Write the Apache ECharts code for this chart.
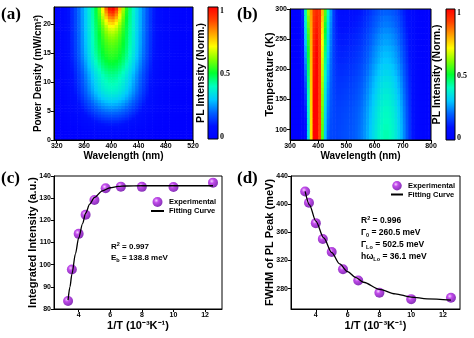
<!DOCTYPE html>
<html><head><meta charset="utf-8">
<script src="https://cdn.jsdelivr.net/npm/echarts@6/dist/echarts.min.js"></script>
<style>html,body{margin:0;padding:0;background:#fff}#c{width:474px;height:338px}</style>
</head><body><div id="c"></div>
<script>
// ---------- (a) power-dependent PL map ----------
const aWlStart = 315, aWlStep = 5;          // wavelength bins (nm)
const aPStep = 0.5;                          // power-density bins (mW/cm2)
// broad emission profile along wavelength (bin centres 317.5 ... 517.5)
const aBroad = [0.049,0.070,0.097,0.131,0.175,0.228,0.290,0.362,0.441,0.527,0.616,0.704,0.788,0.862,0.924,0.969,0.995,0.999,0.982,0.945,0.889,0.819,0.738,0.651,0.562,0.475,0.393,0.318,0.251,0.195,0.150,0.115,0.090,0.075,0.065,0.058,0.052,0.048,0.045,0.042,0.040];
// narrow component that appears at high power
const aNarrow = [0,0,0,0,0,0,0,0,0,0,0,0.017,0.063,0.18,0.40,0.70,0.94,0.99,0.81,0.52,0.26,0.10,0.03,0,0,0,0,0,0,0,0,0,0,0,0,0,0,0,0,0,0];
// amplitudes vs power density (bin centres 0.25 ... 22.75)
const aBaseAmp = [0.035,0.045,0.055,0.07,0.09,0.11,0.13,0.155,0.18,0.205,0.23,0.255,0.28,0.305,0.33,0.35,0.37,0.385,0.395,0.405,0.415,0.425,0.435,0.45,0.465,0.48,0.495,0.51,0.525,0.535,0.545,0.55,0.555,0.56,0.563,0.566,0.569,0.572,0.574,0.576,0.578,0.58,0.582,0.584,0.586,0.588];
const aPeakAmp = [0,0,0,0,0,0,0,0,0,0,0,0,0,0,0,0,0,0,0,0,0,0,0,0,0,0,0,0,0,0,0,0.003,0.008,0.015,0.025,0.04,0.055,0.075,0.10,0.13,0.17,0.21,0.26,0.31,0.36,0.41];
const aXTicks = [320,360,400,440,480,520];
const aYTicks = [0,5,10,15,20];

// ---------- (b) temperature-dependent PL map ----------
const bWlStart = 300, bWlStep = 10;          // bin centres 305 ... 795
const bMainCold = [0,0,0,0,0.01,0.04,0.3,0.68,0.95,1.0,0.8,0.45,0.18,0.06,0.02,0.01,0,0,0,0,0,0,0,0,0,0,0,0,0,0,0,0,0,0,0,0,0,0,0,0,0,0,0,0,0,0,0,0,0,0];
const bMainHot  = [0,0,0,0.02,0.12,0.4,0.6,0.78,0.88,0.9,0.88,0.72,0.5,0.32,0.18,0.08,0.03,0.01,0,0,0,0,0,0,0,0,0,0,0,0,0,0,0,0,0,0,0,0,0,0,0,0,0,0,0,0,0,0,0,0];
const bBroad = [0.03,0.03,0.03,0.04,0.05,0.07,0.1,0.13,0.16,0.2,0.23,0.26,0.29,0.33,0.36,0.38,0.4,0.41,0.42,0.43,0.44,0.45,0.47,0.49,0.52,0.56,0.61,0.67,0.74,0.81,0.87,0.93,0.97,1.0,1.0,0.98,0.94,0.88,0.8,0.7,0.58,0.46,0.35,0.26,0.19,0.14,0.1,0.08,0.07,0.06];
const bTempEdges = [83,90,100,110,120,130,140,150,160,170,180,190,200,210,220,230,240,250,260,270,280,290,300];
const bBroadAmp = [0.41,0.41,0.405,0.4,0.395,0.39,0.38,0.37,0.36,0.35,0.34,0.325,0.315,0.3,0.29,0.28,0.265,0.255,0.24,0.225,0.215,0.2];
const bHotWeight = [0,0.02,0.05,0.08,0.11,0.14,0.18,0.22,0.26,0.3,0.35,0.4,0.45,0.5,0.55,0.6,0.66,0.72,0.78,0.85,0.92,1.0];
const bYTicks = [100,150,200,250,300];

// ---------- (c) integrated intensity ----------
const invT = [3.33,3.57,4.0,4.44,5.0,5.71,6.67,8.0,10.0,12.5];
const cIntensity = [83.6,97.8,113.9,122.5,129.2,134.5,135.2,135.1,135.0,137.0];
const cFitX = [3.33,3.45,3.57,3.8,4.0,4.25,4.44,4.7,5.0,5.5,6.0,6.5,7.0,8.0,10.0,12.5];
const cFitY = [84,90,95.6,105,112.1,118.5,123.2,127.3,130.3,133.3,134.7,135.3,135.5,135.6,135.6,135.6];

// ---------- (d) FWHM ----------
const dFwhm = [418,402,373,350.5,332,307.5,291.5,274,265,267];
const dFitX = [3.33,3.6,4.0,4.5,5.0,5.5,6.0,6.5,7.0,8.0,9.0,10.0,11.0,12.5];
const dFitY = [418,399,376,352,331,315,304,296,289,279,272.5,268,265.5,263.5];
const xTicksT = [4,6,8,10,12];
const dYTicks = [280,320,360,400,440];

// ---------- build ----------
const FS = 'Liberation Sans, Arial, sans-serif';
const FSERIF = 'Liberation Serif, Times New Roman, serif';
// rainbow colour scale, evenly spaced from 0 to 1
const rainbow = ['#0000ff','#0010ff','#0060ff','#00c8ff','#00ffc0','#00ff30','#80ff00','#ffff00','#ffa000','#ff4000','#ff0000'];

const aData = [];
for (let i = 0; i < aBaseAmp.length; i++) {
  for (let j = 0; j < aBroad.length; j++) {
    const v = Math.min(1, aBaseAmp[i] * aBroad[j] + aPeakAmp[i] * aNarrow[j]);
    aData.push([aWlStart + j * aWlStep, aWlStart + (j + 1) * aWlStep, i * aPStep, (i + 1) * aPStep, v]);
  }
}
const bData = [];
for (let i = 0; i < bBroadAmp.length; i++) {
  for (let j = 0; j < bBroad.length; j++) {
    const w = bHotWeight[i];
    const v = Math.min(1, (1 - w) * bMainCold[j] + w * bMainHot[j] + bBroadAmp[i] * bBroad[j]);
    bData.push([bWlStart + j * bWlStep, bWlStart + (j + 1) * bWlStep, bTempEdges[i], bTempEdges[i + 1], v]);
  }
}

function cellRender(params, api) {
  const p0 = api.coord([api.value(0), api.value(3)]);
  const p1 = api.coord([api.value(1), api.value(2)]);
  return {type: 'rect', shape: {x: p0[0], y: p0[1], width: p1[0] - p0[0] + 0.6, height: p1[1] - p0[1] + 0.6},
          style: {fill: api.visual('color')}};
}
function barRender(params, api) {
  const p0 = api.coord([api.value(0), api.value(3)]);
  const p1 = api.coord([api.value(1), api.value(2)]);
  const stops = rainbow.map((c, k) => ({offset: k / (rainbow.length - 1), color: c}));
  return {type: 'rect', shape: {x: p0[0], y: p0[1], width: p1[0] - p0[0], height: p1[1] - p0[1]},
          style: {fill: new echarts.graphic.LinearGradient(0, 1, 0, 0, stops), stroke: '#000', lineWidth: 1}};
}

function axis(extra) {
  const base = {
    type: 'value', z: 10,
    axisLine: {show: true, onZero: false, lineStyle: {color: '#000', width: 1}},
    axisTick: {show: true, length: 3, inside: false, lineStyle: {color: '#000', width: 1}},
    axisLabel: {color: '#000', fontSize: 7, fontWeight: 'bold', fontFamily: FS, margin: 3},
    splitLine: {show: false},
    nameLocation: 'middle', nameMoveOverlap: false,
    nameTextStyle: {color: '#000', fontSize: 10, fontWeight: 'bold', fontFamily: FS}
  };
  const o = Object.assign({}, base, extra);
  ['axisLine','axisTick','axisLabel','nameTextStyle'].forEach(k => { if (extra[k]) o[k] = Object.assign({}, base[k], extra[k]); });
  return o;
}
const hidden = {show: false, type: 'value', min: 0, max: 1};

const sphere = new echarts.graphic.RadialGradient(0.38, 0.35, 0.65, [
  {offset: 0, color: '#f2c8ff'}, {offset: 0.35, color: '#b21ee6'}, {offset: 1, color: '#6a00a6'}]);

const legendData = ['Experimental', {name: 'Fitting Curve', itemStyle: {opacity: 0, color: 'rgba(0,0,0,0)', borderWidth: 0}}];

const option = {
  animation: false,
  backgroundColor: '#fff',
  grid: [
    {left: 54, top: 7, width: 139, height: 133, show: true, borderColor: '#000', borderWidth: 1, z: 10, outerBoundsMode: 'none'},
    {left: 290, top: 9, width: 141, height: 131, show: true, borderColor: '#000', borderWidth: 1, z: 10, outerBoundsMode: 'none'},
    {left: 54, top: 176, width: 168, height: 133, show: true, borderColor: '#000', borderWidth: 1, z: 10, outerBoundsMode: 'none'},
    {left: 291, top: 176, width: 169, height: 133, show: true, borderColor: '#000', borderWidth: 1, z: 10, outerBoundsMode: 'none'},
    {left: 208, top: 7, width: 10, height: 132, outerBoundsMode: 'none'},
    {left: 446, top: 9, width: 9, height: 131, outerBoundsMode: 'none'}
  ],
  xAxis: [
    axis({gridIndex: 0, min: 316, max: 520, name: 'Wavelength (nm)', nameGap: 11,
          axisTick: {customValues: aXTicks}, axisLabel: {customValues: aXTicks}}),
    axis({gridIndex: 1, min: 300, max: 800, interval: 100, name: 'Wavelength (nm)', nameGap: 11}),
    axis({gridIndex: 2, min: 2.44, max: 13.07, name: '1/T (10⁻³K⁻¹)', nameGap: 11,
          nameTextStyle: {fontSize: 11}, axisTick: {customValues: xTicksT}, axisLabel: {customValues: xTicksT}}),
    axis({gridIndex: 3, min: 2.44, max: 13.07, name: '1/T (10⁻³K⁻¹)', nameGap: 11,
          nameTextStyle: {fontSize: 11}, axisTick: {customValues: xTicksT}, axisLabel: {customValues: xTicksT}}),
    Object.assign({gridIndex: 4}, hidden),
    Object.assign({gridIndex: 5}, hidden)
  ],
  yAxis: [
    axis({gridIndex: 0, min: 0, max: 23, name: 'Power Density (mW/cm²)', nameGap: 11,
          axisTick: {customValues: aYTicks}, axisLabel: {customValues: aYTicks}}),
    axis({gridIndex: 1, min: 83, max: 300, name: 'Temperature (K)', nameGap: 15, nameTextStyle: {fontSize: 11},
          axisTick: {customValues: bYTicks}, axisLabel: {customValues: bYTicks}}),
    axis({gridIndex: 2, min: 80, max: 140, interval: 10, name: 'Integrated Intensity (a.u.)', nameGap: 16,
          nameTextStyle: {fontSize: 11}}),
    axis({gridIndex: 3, min: 251, max: 440, name: 'FWHM of PL Peak (meV)', nameGap: 16, nameTextStyle: {fontSize: 11},
          axisTick: {customValues: dYTicks}, axisLabel: {customValues: dYTicks}}),
    {gridIndex: 4, type: 'value', position: 'right', min: -0.015, max: 1.035,
     axisLine: {show: false}, axisTick: {show: false}, splitLine: {show: false},
     axisLabel: {customValues: [0, 0.5, 1], color: '#000', fontSize: 8, fontWeight: 'bold', fontFamily: FSERIF, margin: 2}},
    {gridIndex: 4, type: 'value', position: 'left', min: 0, max: 1, axisLine: {show: false}, axisTick: {show: false},
     axisLabel: {show: false}, splitLine: {show: false}, name: 'PL Intensity (Norm.)', nameLocation: 'middle', nameGap: 1,
     nameMoveOverlap: false, nameTextStyle: {color: '#000', fontSize: 10.5, fontWeight: 'bold', fontFamily: FS}},
    {gridIndex: 5, type: 'value', position: 'right', min: -0.015, max: 1.035,
     axisLine: {show: false}, axisTick: {show: false}, splitLine: {show: false},
     axisLabel: {customValues: [0, 0.5, 1], color: '#000', fontSize: 8, fontWeight: 'bold', fontFamily: FSERIF, margin: 2}},
    {gridIndex: 5, type: 'value', position: 'left', min: 0, max: 1, axisLine: {show: false}, axisTick: {show: false},
     axisLabel: {show: false}, splitLine: {show: false}, name: 'PL Intensity (Norm.)', nameLocation: 'middle', nameGap: 3,
     nameMoveOverlap: false, nameTextStyle: {color: '#000', fontSize: 10.5, fontWeight: 'bold', fontFamily: FS}}
  ],
  visualMap: {type: 'continuous', show: false, min: 0, max: 1, dimension: 4, seriesIndex: [0, 1], inRange: {color: rainbow}},
  legend: [
    {orient: 'vertical', left: 150, top: 197, padding: 0, itemGap: 0, itemWidth: 13, itemHeight: 10,
     data: legendData, selectedMode: false,
     textStyle: {color: '#000', fontSize: 7.5, fontWeight: 'bold', fontFamily: FS}},
    {orient: 'vertical', left: 390, top: 181, padding: 0, itemGap: 0, itemWidth: 12, itemHeight: 9.5,
     data: legendData, selectedMode: false,
     textStyle: {color: '#000', fontSize: 7.5, fontWeight: 'bold', fontFamily: FS}}
  ],
  series: [
    {type: 'custom', xAxisIndex: 0, yAxisIndex: 0, data: aData, renderItem: cellRender, encode: {x: [0, 1], y: [2, 3]}, clip: true, z: 1, silent: true},
    {type: 'custom', xAxisIndex: 1, yAxisIndex: 1, data: bData, renderItem: cellRender, encode: {x: [0, 1], y: [2, 3]}, clip: true, z: 1, silent: true},
    {type: 'custom', xAxisIndex: 4, yAxisIndex: 4, data: [[0, 1, -0.015, 1.035]], renderItem: barRender, encode: {x: [0, 1], y: [2, 3]}, silent: true},
    {type: 'custom', xAxisIndex: 5, yAxisIndex: 6, data: [[0, 1, -0.015, 1.035]], renderItem: barRender, encode: {x: [0, 1], y: [2, 3]}, silent: true},
    {name: 'Experimental', type: 'scatter', xAxisIndex: 2, yAxisIndex: 2, symbol: 'circle', symbolSize: 10,
     data: invT.map((x, i) => [x, cIntensity[i]]), itemStyle: {color: sphere}, z: 3},
    {name: 'Fitting Curve', type: 'line', xAxisIndex: 2, yAxisIndex: 2, symbol: 'none', showSymbol: false,
     smooth: 0.3, smoothMonotone: 'x', data: cFitX.map((x, i) => [x, cFitY[i]]),
     lineStyle: {color: '#000', width: 1.3}, itemStyle: {color: '#000'}, z: 4},
    {name: 'Experimental', type: 'scatter', xAxisIndex: 3, yAxisIndex: 3, symbol: 'circle', symbolSize: 10,
     data: invT.map((x, i) => [x, dFwhm[i]]), itemStyle: {color: sphere}, z: 3},
    {name: 'Fitting Curve', type: 'line', xAxisIndex: 3, yAxisIndex: 3, symbol: 'none', showSymbol: false,
     smooth: 0.3, smoothMonotone: 'x', data: dFitX.map((x, i) => [x, dFitY[i]]),
     lineStyle: {color: '#000', width: 1.3}, itemStyle: {color: '#000'}, z: 4}
  ],
  graphic: (function () {
    const m = (fs) => ({fontSize: fs, fontWeight: 'bold', fontFamily: FS, fill: '#000', lineHeight: 11, verticalAlign: 'middle'});
    const sup = (fs) => ({fontSize: fs, fontWeight: 'bold', fontFamily: FS, fill: '#000', lineHeight: 6, verticalAlign: 'top'});
    const sub = (fs) => ({fontSize: fs, fontWeight: 'bold', fontFamily: FS, fill: '#000', lineHeight: 6, verticalAlign: 'bottom'});
    const richC = {m: m(8), p: sup(5.5), b: sub(5.5)};
    const richD = {m: m(8.5), p: sup(5.5), b: sub(5.5)};
    const t = (x, y, text, rich) => ({type: 'text', x: x, y: y, silent: true,
      style: {text: text, rich: rich, fill: '#000', align: 'left', verticalAlign: 'middle'}});
    const lab = (x, y, text) => ({type: 'text', x: x, y: y, silent: true,
      style: {text: text, fill: '#000', align: 'left', verticalAlign: 'middle', fontSize: 17, fontWeight: 'bold', fontFamily: FSERIF}});
    return [
      lab(1, 15, '(a)'), lab(237, 15, '(b)'), lab(1, 179, '(c)'), lab(237, 179, '(d)'),
      t(111, 247, '{m|R}{p|2}{m| = 0.997}', richC),
      t(111, 258, '{m|E}{b|b}{m| = 138.8 meV}', richC),
      t(361, 221, '{m|R}{p|2}{m| = 0.996}', richD),
      t(361, 233, '{m|Γ}{b|0}{m| = 260.5 meV}', richD),
      t(361, 245, '{m|Γ}{b|Lo}{m| = 502.5 meV}', richD),
      t(361, 257, '{m|hω}{b|Lo}{m| = 36.1 meV}', richD)
    ];
  })()
};

const chart = echarts.init(document.getElementById('c'), null, {renderer: 'canvas'});
chart.setOption(option);
</script></body></html>
